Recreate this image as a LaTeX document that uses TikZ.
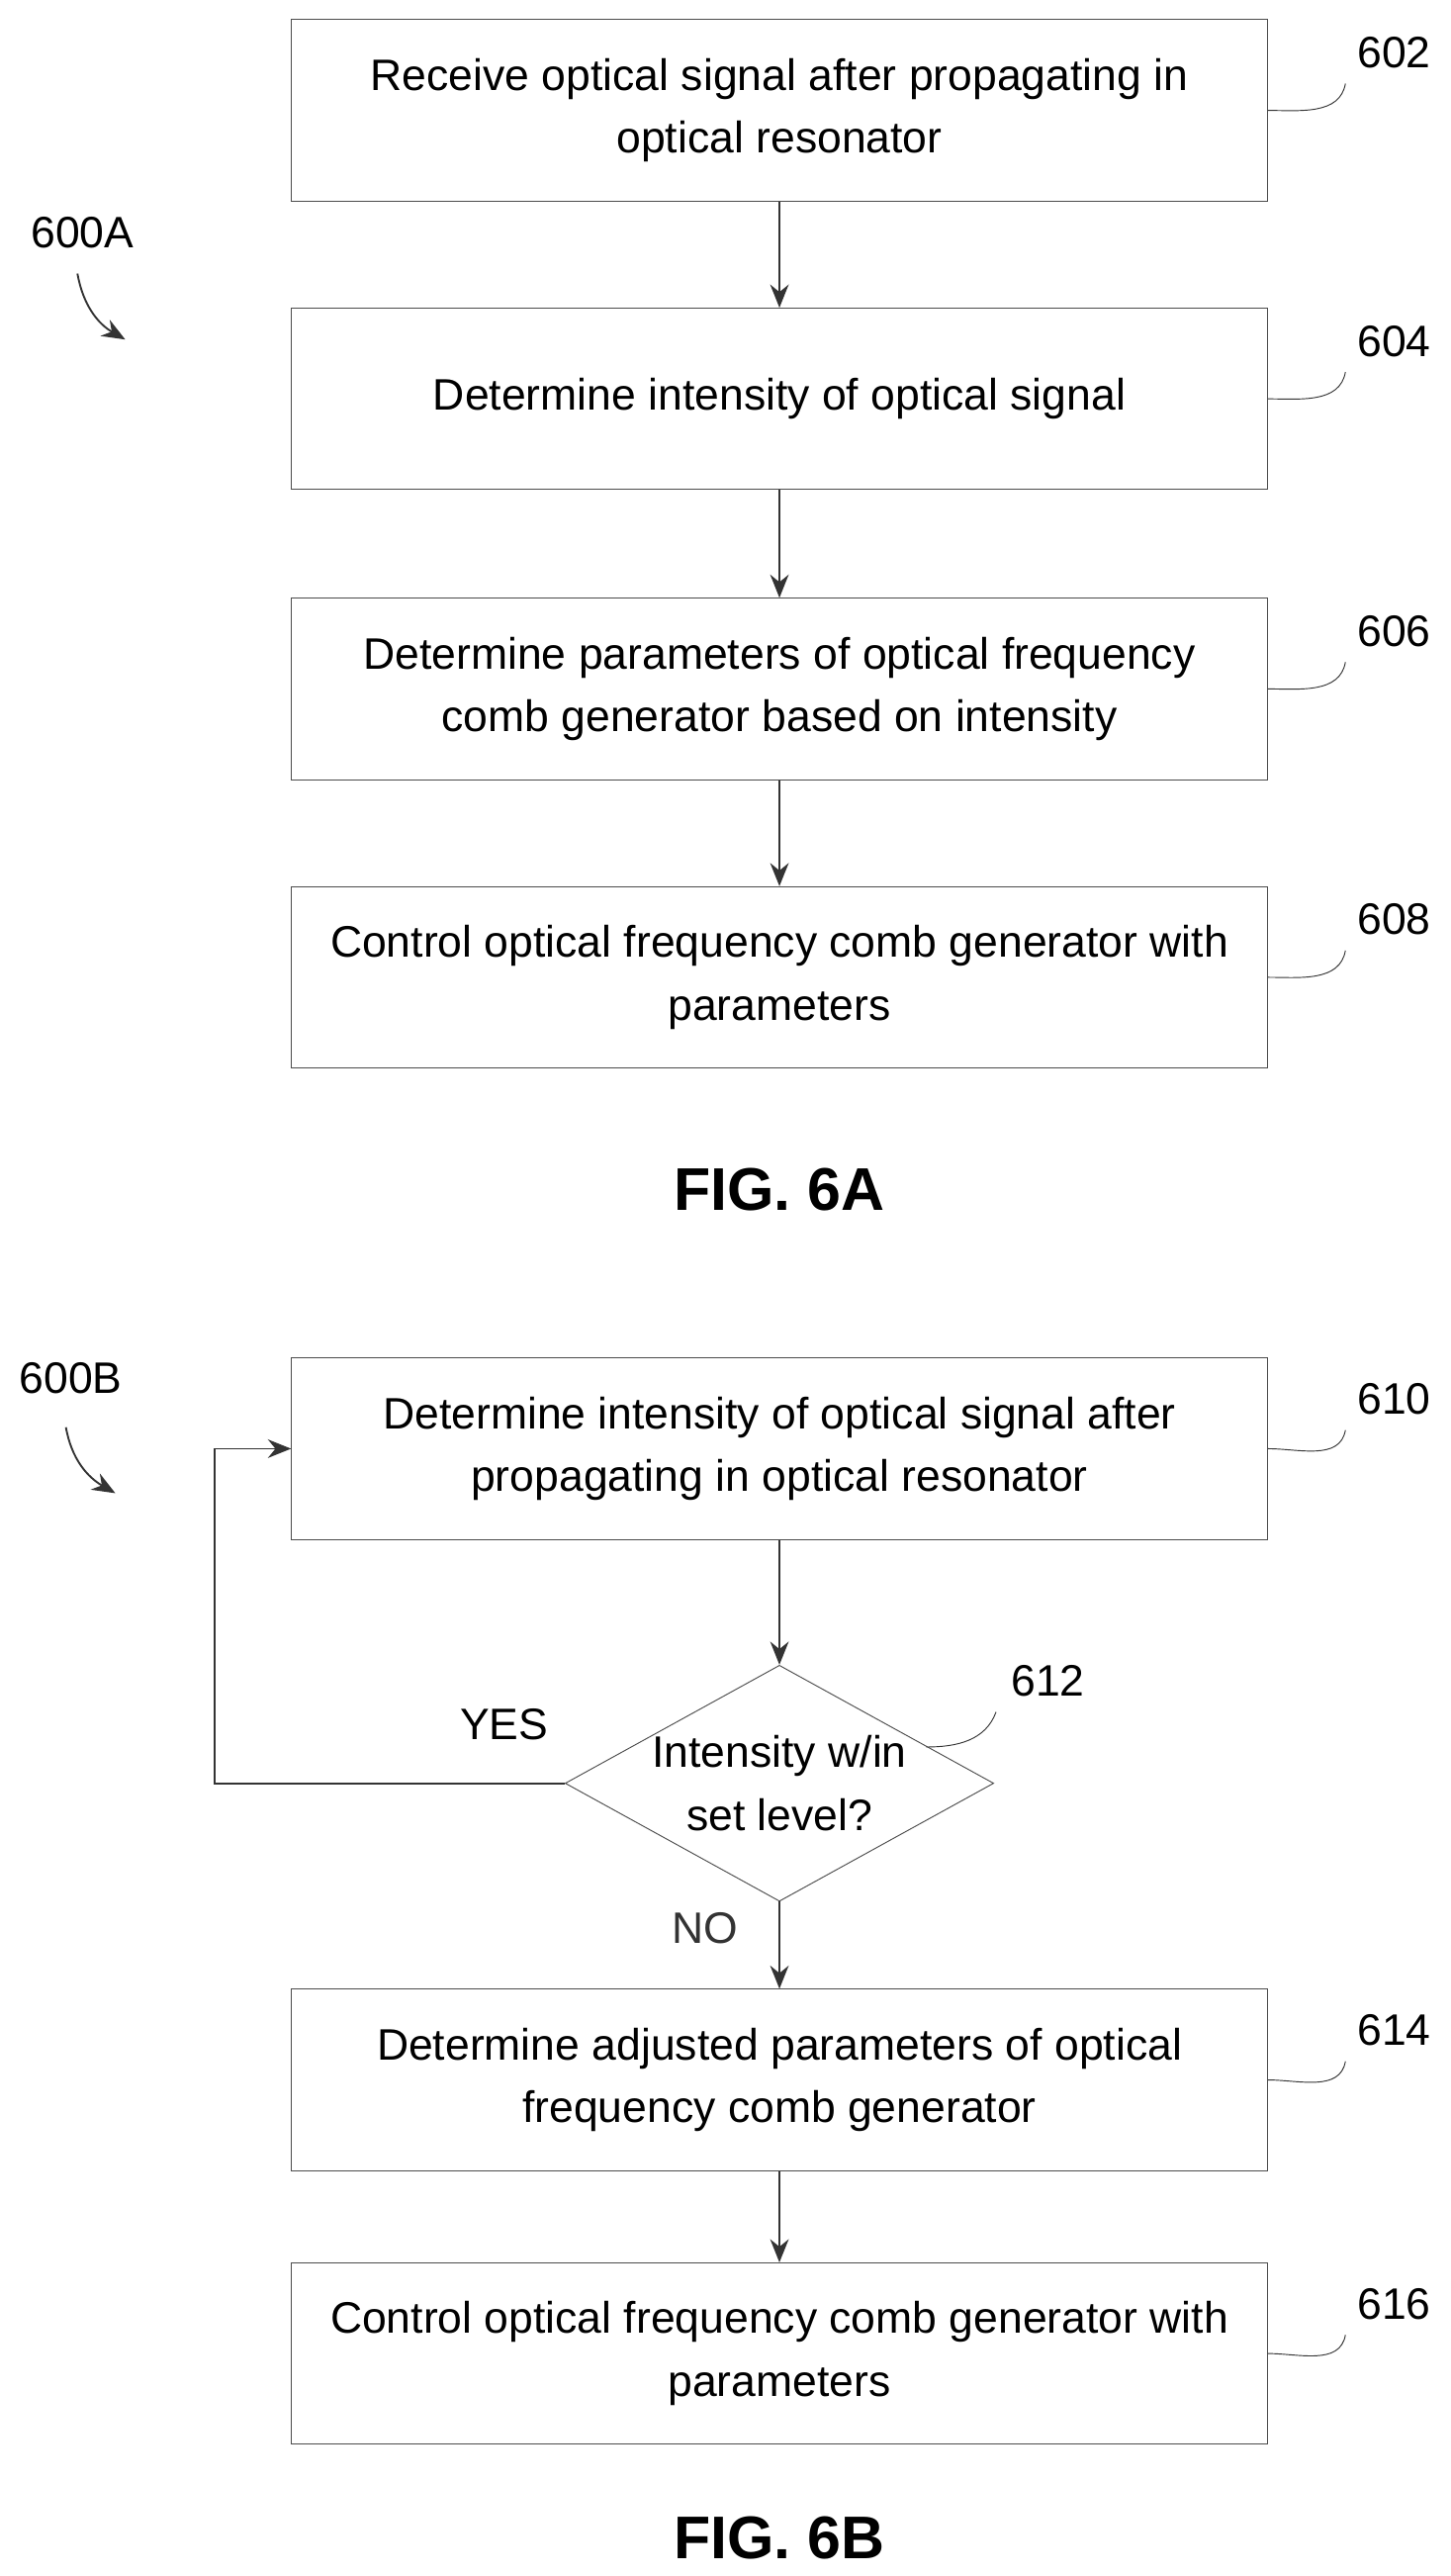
\documentclass[tikz,border=0pt]{standalone}
\usepackage{fontspec}
\setmainfont{Liberation Sans}
\usetikzlibrary{arrows.meta, shapes.geometric, calc}

\begin{document}
\begin{tikzpicture}[x=0.025cm, y=-0.025cm, thick,
    stepbox/.style={draw=black!70, thin, minimum width=14.8cm, minimum height=2.75cm,
                 align=center, font=\fontsize{19}{27}\selectfont},
    dec/.style={draw=black!70, thin, diamond, aspect=1.82, minimum width=6.5cm,
                minimum height=3.58cm, inner sep=0pt, align=center,
                font=\fontsize{19}{27}\selectfont},
    flow/.style={-{Stealth[length=10pt, width=8pt]}, black!80},
    lbl/.style={font=\fontsize{19}{22}\selectfont},
    lead/.style={black!80, thin}]

  \useasboundingbox (0,0) rectangle (880,1563);

  % FIG. 6A
  \node[stepbox] (s602) at (473,67) {Receive optical signal after propagating in\\optical resonator};
  \node[stepbox] (s604) at (473,242) {Determine intensity of optical signal};
  \node[stepbox] (s606) at (473,418) {Determine parameters of optical frequency\\comb generator based on intensity};
  \node[stepbox] (s608) at (473,593) {Control optical frequency comb generator with\\parameters};

  \draw[flow] (s602) -- (s604);
  \draw[flow] (s604) -- (s606);
  \draw[flow] (s606) -- (s608);

  \foreach \n/\y in {602/67, 604/242, 606/418, 608/593} {
    \node[lbl] (r\n) at (846,\y-35) {\n};
    \draw[lead] (s\n.east) ++(0,0) to[out=0, in=-100] ($(r\n.south west)+(-2,4)$);
  }

  \node[lbl] (n600a) at (50,141) {600A};
  \coordinate (t600a) at (76,206);
  \draw[flow] (47,166) to[out=-80, in=150] (t600a);

  \node[font=\bfseries\fontsize{26}{30}\selectfont] (fig6a) at (473,722) {FIG. 6A};

  % FIG. 6B
  \node[stepbox] (s610) at (473,879) {Determine intensity of optical signal after\\propagating in optical resonator};
  \node[dec] (d612) at (473,1082) {Intensity w/in\\set level?};
  \node[stepbox] (s614) at (473,1262) {Determine adjusted parameters of optical\\frequency comb generator};
  \node[stepbox] (s616) at (473,1428) {Control optical frequency comb generator with\\parameters};

  \draw[flow] (s610) -- (d612);
  \draw[flow] (d612) -- node[pos=0.3, left=14pt, lbl] (no) {NO} (s614);
  \draw[flow] (s614) -- (s616);
  \draw[flow] (d612.west) -- (130,1082) -- (130,879) -- (s610.west);
  \node[lbl] (yes) at (306,1046) {YES};

  \foreach \n/\y in {610/879, 614/1262, 616/1428} {
    \node[lbl] (r\n) at (846,\y-30) {\n};
    \draw[lead] (s\n.east) ++(0,0) to[out=0, in=-100] ($(r\n.south west)+(-2,4)$);
  }
  \node[lbl] (r612) at (636,1020) {612};
  \draw[lead] (562,1060) to[out=0, in=-110] ($(r612.south west)+(-4,4)$);

  \node[lbl] (n600b) at (43,836) {600B};
  \coordinate (t600b) at (70,906);
  \draw[flow] (40,866) to[out=-80, in=150] (t600b);

  \node[font=\bfseries\fontsize{26}{30}\selectfont] (fig6b) at (473,1540) {FIG. 6B};
\end{tikzpicture}
\end{document}
